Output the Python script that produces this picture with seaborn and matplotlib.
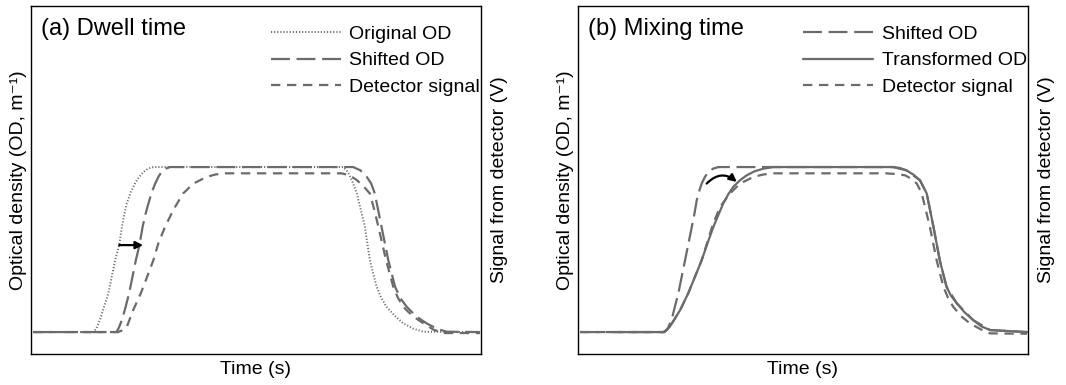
import matplotlib
matplotlib.use("Agg")
import matplotlib.pyplot as plt
import seaborn as sns

# ---- panel (a): dwell time ----
orig_x = [0.5, 13.8, 14.5, 15.3, 16.2, 17.2, 18.7, 19.6, 20.2, 20.7, 21.3, 22.2, 23.1, 24.0, 25.0, 26.0, 27.2,
          69.4, 70.4, 71.3, 72.4, 73.3, 74.2, 75.3, 76.8, 77.8, 79.0, 80.8, 82.7, 85.0, 87.2, 99.8]
orig_y = [0, 0, 0.02, 0.073, 0.15, 0.236, 0.436, 0.527, 0.638, 0.71, 0.78, 0.85, 0.90, 0.94, 0.97, 0.99, 1.0,
          1.0, 0.97, 0.921, 0.84, 0.74, 0.638, 0.436, 0.275, 0.21, 0.153, 0.10, 0.053, 0.02, 0.002, 0]

shift_a_x = [0.5, 19.0, 19.5, 20.2, 21.0, 21.8, 23.3, 24.1, 24.8, 25.4, 26.1, 26.8, 27.6, 28.3, 29.0, 29.9, 30.9,
             71.6, 73.2, 74.6, 75.6, 76.4, 77.9, 79.4, 80.9, 82.1, 83.5, 85.6, 87.9, 90.2, 92.4, 99.8]
shift_a_y = [0, 0, 0.025, 0.073, 0.15, 0.235, 0.436, 0.527, 0.638, 0.71, 0.78, 0.845, 0.90, 0.94, 0.97, 0.99, 1.0,
             1.0, 0.98, 0.941, 0.90, 0.84, 0.638, 0.436, 0.275, 0.205, 0.153, 0.095, 0.053, 0.02, 0.002, 0]

det_a_x = [0.5, 19.3, 20.3, 21.3, 22.7, 24.4, 25.8, 27.2, 28.3, 29.8, 31.6, 33.8, 36.1, 39.0, 41.0, 43.1,
           69.0, 70.8, 72.4, 74.0, 75.3, 76.3, 77.2, 78.9, 80.5, 81.5, 82.7, 84.9, 87.2, 89.4, 91.6, 99.8]
det_a_y = [0, 0, 0.01, 0.032, 0.133, 0.235, 0.335, 0.436, 0.538, 0.638, 0.739, 0.84, 0.90, 0.94, 0.955, 0.962,
           0.962, 0.95, 0.921, 0.88, 0.84, 0.74, 0.638, 0.436, 0.275, 0.21, 0.153, 0.095, 0.053, 0.015, -0.006, -0.006]

# ---- panel (b): mixing time ----
shift_b_x = [0.5, 19.3, 20.0, 20.8, 21.5, 22.3, 23.8, 25.3, 25.9, 26.4, 27.0, 27.5, 28.2, 29.0, 30.0, 31.2,
             70.0, 73.0, 76.0, 77.5, 79.0, 80.4, 81.9, 84.2, 87.8, 91.6, 99.8]
shift_b_y = [0, 0, 0.025, 0.073, 0.15, 0.235, 0.436, 0.638, 0.72, 0.80, 0.86, 0.90, 0.94, 0.97, 0.99, 1.0,
             1.0, 0.98, 0.92, 0.84, 0.638, 0.436, 0.275, 0.174, 0.073, 0.012, 0]

trans_x = [8.9, 19.0, 19.7, 20.4, 21.5, 22.7, 24.5, 26.0, 27.5, 28.8, 30.1, 31.2, 32.3, 33.4, 34.5, 36.0, 37.5,
           39.3, 41.2, 43.4, 70.0, 71.5, 73.0, 74.5, 76.0, 77.5, 79.0, 80.4, 81.9, 82.9, 84.2, 85.9, 87.8, 89.6,
           91.6, 99.8]
trans_y = [0, 0, 0.012, 0.032, 0.08, 0.133, 0.235, 0.335, 0.436, 0.54, 0.638, 0.71, 0.78, 0.835, 0.88, 0.92, 0.95,
           0.975, 0.99, 1.0, 1.0, 0.995, 0.98, 0.955, 0.92, 0.84, 0.638, 0.436, 0.275, 0.22, 0.174, 0.12, 0.073,
           0.035, 0.012, 0]

det_b_x = [0.5, 19.0, 19.7, 20.4, 21.5, 22.7, 24.5, 26.0, 27.5, 28.7, 29.8, 30.7, 31.6, 32.7, 33.8, 36.0, 39.0,
           41.2, 43.4, 68.4, 70.6, 72.7, 74.0, 75.3, 76.4, 78.2, 79.7, 81.2, 82.2, 83.4, 85.2, 87.1, 89.4, 91.6, 99.8]
det_b_y = [0, 0, 0.012, 0.032, 0.08, 0.133, 0.235, 0.335, 0.436, 0.54, 0.638, 0.70, 0.76, 0.80, 0.84, 0.90, 0.94,
           0.955, 0.962, 0.962, 0.958, 0.95, 0.93, 0.90, 0.84, 0.638, 0.436, 0.275, 0.21, 0.153, 0.095, 0.053, 0.018,
           -0.008, -0.01]

# arrows (start, end) in data units
arrow_a = ((19.6, 0.527), (24.9, 0.527))
arrow_b = ((28.6, 0.90), (35.3, 0.91))

sns.set_style("white")
plt.rcParams["font.family"] = ["Liberation Sans", "DejaVu Sans"]
plt.rcParams["text.color"] = "black"
plt.rcParams["axes.labelcolor"] = "black"

GRAY = "#6b6b6b"
LW = 1.6
DOTTED = (0, (0.6, 1.0))
LONG_DASH = (0, (8.5, 3.0))
SHORT_DASH = (0, (4.2, 3.0))

fig = plt.figure(figsize=(10.66, 3.85), dpi=100)
ax_a = fig.add_axes([0.0291, 0.0805, 0.4221, 0.9039])
ax_b = fig.add_axes([0.5422, 0.0805, 0.4221, 0.9039])

sns.lineplot(x=orig_x, y=orig_y, ax=ax_a, color=GRAY, lw=1.4, linestyle=DOTTED,
             estimator=None, sort=False, label="Original OD")
sns.lineplot(x=shift_a_x, y=shift_a_y, ax=ax_a, color=GRAY, lw=LW, linestyle=LONG_DASH,
             estimator=None, sort=False, label="Shifted OD")
sns.lineplot(x=det_a_x, y=det_a_y, ax=ax_a, color=GRAY, lw=LW, linestyle=SHORT_DASH,
             estimator=None, sort=False, label="Detector signal")

sns.lineplot(x=shift_b_x, y=shift_b_y, ax=ax_b, color=GRAY, lw=LW, linestyle=LONG_DASH,
             estimator=None, sort=False, label="Shifted OD")
sns.lineplot(x=trans_x, y=trans_y, ax=ax_b, color=GRAY, lw=LW, linestyle="-",
             estimator=None, sort=False, label="Transformed OD")
sns.lineplot(x=det_b_x, y=det_b_y, ax=ax_b, color=GRAY, lw=LW, linestyle=SHORT_DASH,
             estimator=None, sort=False, label="Detector signal")

ax_a.annotate("", xy=arrow_a[1], xytext=arrow_a[0],
              arrowprops=dict(arrowstyle="-|>", color="black", lw=1.6, mutation_scale=11,
                              shrinkA=0, shrinkB=0))
ax_b.annotate("", xy=arrow_b[1], xytext=arrow_b[0],
              arrowprops=dict(arrowstyle="-|>", color="black", lw=1.6, mutation_scale=11,
                              shrinkA=0, shrinkB=0, connectionstyle="arc3,rad=-0.45"))

for ax, title in [(ax_a, "(a) Dwell time"), (ax_b, "(b) Mixing time")]:
    ax.set_xlim(0, 100)
    ax.set_ylim(-0.133, 1.976)
    ax.set_xticks([])
    ax.set_yticks([])
    for s in ax.spines.values():
        s.set_visible(True)
        s.set_color("black")
        s.set_linewidth(1.0)
    ax.set_xlabel("Time (s)", fontsize=14, labelpad=5)
    ax.set_ylabel("Optical density (OD, m⁻¹)", fontsize=14, labelpad=3)
    ax.text(0.022, 0.935, title, transform=ax.transAxes, fontsize=17, ha="left", va="center")
    ax.legend(loc="upper right", bbox_to_anchor=(1.011, 0.961), frameon=False, fontsize=14,
              handlelength=3.6, handletextpad=0.45, labelspacing=0.45, borderaxespad=0, borderpad=0.3)
    tw = ax.twinx()
    tw.set_yticks([])
    tw.set_ylabel("Signal from detector (V)", fontsize=14, labelpad=7)
    for s in tw.spines.values():
        s.set_visible(False)

fig.savefig("out.png", dpi=100)
